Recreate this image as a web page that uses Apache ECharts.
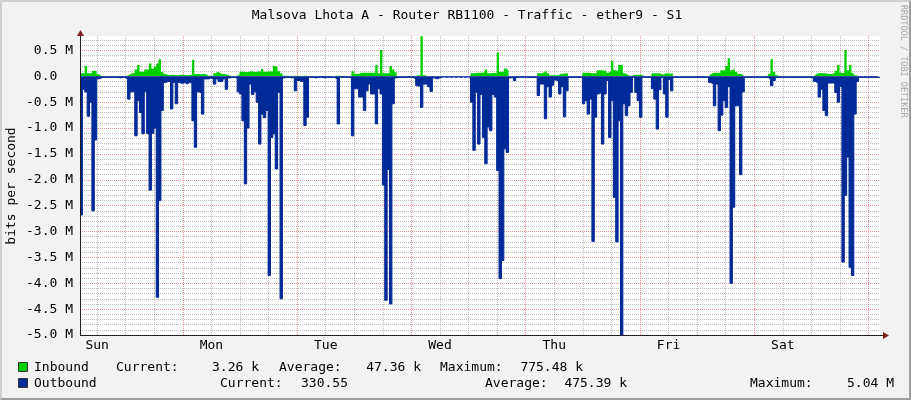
<!DOCTYPE html>
<html><head><meta charset="utf-8">
<script src="https://cdn.jsdelivr.net/npm/echarts@6/dist/echarts.min.js"></script>
<style>
html,body{margin:0;padding:0;background:#F2F2F2;}
#wrap{position:relative;width:911px;height:400px;overflow:hidden;}
#chart{position:absolute;left:0;top:0;width:911px;height:400px;}
#frame{position:absolute;left:0;top:0;width:911px;height:400px;box-sizing:border-box;border-style:solid;border-width:2px;border-color:#CFCFCF #9E9E9E #9E9E9E #CFCFCF;pointer-events:none;}
</style></head>
<body><div id="wrap"><div id="chart"></div><div id="frame"></div></div>
<script>
// ---------- text ----------
const TITLE = 'Malsova Lhota A - Router RB1100 - Traffic - ether9 - S1';
const Y_TITLE = 'bits per second';
const WATERMARK = 'RRDTOOL / TOBI OETIKER';
const DAY_NAMES = ['Sun','Mon','Tue','Wed','Thu','Fri','Sat'];
const DAY_LABEL_HOURS = [12,36,60,84,108,132,156];   // noon of each day (hours since Sunday 00:00)
const SERIES_NAMES = ['Inbound','Outbound'];
const STAT_LABELS = ['Current:','Average:','Maximum:'];
const IN_STATS = ['3.26 k','47.36 k','775.48 k'];
const OUT_STATS = ['330.55','475.39 k','5.04 M'];

// ---------- time base (30-minute samples) ----------
const START_HOUR = 8.4;     // Sunday 08:24
const END_HOUR = 176.4;     // one week later
const STEP_HOURS = 0.5;

// ---------- values, in M bits/s ----------
const INBOUND = [
0.06,0.06,0.20,0.06,0.06,0.11,0.10,0.04,0.008,0.006,0.007,0.005,
0.006,0.008,0.005,0.007,0.006,0.008,0.006,0.01,0.04,0.06,0.06,0.13,
0.22,0.09,0.09,0.13,0.13,0.25,0.15,0.19,0.25,0.33,0.09,0.045,
0.025,0.025,0.03,0.025,0.02,0.025,0.03,0.025,0.02,0.025,0.03,0.32,
0.045,0.045,0.04,0.045,0.04,0.01,0.01,0.01,0.06,0.09,0.06,0.045,
0.045,0.03,0.01,0.008,0.008,0.01,0.03,0.09,0.09,0.08,0.09,0.10,
0.09,0.08,0.10,0.09,0.14,0.09,0.09,0.10,0.09,0.20,0.17,0.10,
0.06,0.01,0.01,0.008,0.01,0.008,0.01,0.01,0.008,0.01,0.01,0.008,
0.008,0.006,0.008,0.006,0.008,0.006,0.008,0.006,0.008,0.006,0.008,0.01,
0.01,0.008,0.006,0.008,0.006,0.01,0.10,0.05,0.045,0.07,0.07,0.07,
0.07,0.07,0.07,0.07,0.22,0.06,0.51,0.06,0.06,0.06,0.20,0.13,
0.08,0.005,0.005,0.005,0.005,0.005,0.005,0.005,0.005,0.02,0.02,0.775,
0.02,0.004,0.004,0.004,0.004,0.004,0.004,0.004,0.004,0.004,0.004,0.004,
0.004,0.004,0.004,0.004,0.004,0.004,0.004,0.004,0.06,0.06,0.07,0.07,
0.07,0.08,0.13,0.06,0.06,0.07,0.06,0.46,0.09,0.09,0.15,0.12,
0.004,0.004,0.004,0.004,0.004,0.004,0.004,0.004,0.004,0.004,0.004,0.004,
0.06,0.06,0.08,0.11,0.06,0.02,0.02,0.02,0.02,0.05,0.05,0.06,
0.05,0.003,0.003,0.003,0.003,0.003,0.003,0.07,0.07,0.07,0.06,0.06,
0.06,0.12,0.12,0.11,0.11,0.07,0.10,0.30,0.12,0.11,0.22,0.22,
0.06,0.03,0.01,0.01,0.03,0.03,0.03,0.03,0.003,0.003,0.003,0.003,
0.06,0.06,0.06,0.05,0.03,0.06,0.06,0.05,0.06,0.003,0.003,0.003,
0.003,0.003,0.003,0.003,0.003,0.003,0.003,0.003,0.003,0.003,0.003,0.003,
0.04,0.07,0.07,0.07,0.07,0.12,0.12,0.20,0.35,0.12,0.15,0.09,
0.05,0.04,0.003,0.003,0.003,0.003,0.003,0.003,0.003,0.003,0.003,0.01,
0.005,0.05,0.33,0.09,0.02,0.003,0.003,0.003,0.003,0.003,0.003,0.003,
0.003,0.003,0.003,0.003,0.003,0.003,0.003,0.003,0.03,0.06,0.06,0.06,
0.06,0.05,0.045,0.045,0.07,0.11,0.22,0.07,0.06,0.51,0.12,0.22,
0.06,0.02,0.003,0.003,0.003,0.003,0.003,0.003,0.003,0.003,0.003,0.003
];
const OUTBOUND = [
2.68,0.25,0.30,0.77,0.50,2.60,1.23,0.05,0.03,0.02,0.02,0.02,
0.02,0.02,0.02,0.02,0.03,0.02,0.02,0.05,0.44,0.30,0.30,1.15,
0.47,0.70,1.11,0.30,1.11,2.20,1.10,1.00,4.27,2.40,0.66,0.12,
0.10,0.10,0.63,0.12,0.53,0.12,0.14,0.12,0.15,0.12,0.13,0.86,
1.37,0.30,0.32,0.73,0.05,0.05,0.03,0.05,0.15,0.05,0.10,0.10,
0.05,0.25,0.03,0.02,0.02,0.03,0.30,0.34,0.86,2.08,1.00,0.15,
0.35,0.30,0.50,1.31,0.73,0.80,0.66,3.85,1.18,1.11,1.79,0.31,
4.30,0.03,0.02,0.02,0.03,0.02,0.28,0.08,0.10,0.10,0.95,0.79,
0.02,0.02,0.03,0.02,0.02,0.02,0.03,0.02,0.02,0.02,0.02,0.05,
0.92,0.02,0.02,0.02,0.02,0.03,1.15,0.24,0.24,0.40,0.40,0.66,
0.28,0.15,0.34,0.34,0.92,0.24,0.34,2.10,4.33,1.80,4.40,0.53,
0.03,0.02,0.02,0.02,0.02,0.02,0.02,0.02,0.05,0.18,0.20,0.60,
0.15,0.15,0.20,0.29,0.03,0.05,0.03,0.02,0.01,0.02,0.01,0.02,
0.01,0.02,0.01,0.02,0.01,0.02,0.01,0.02,0.50,1.43,0.31,1.31,
0.35,1.18,1.69,0.98,1.05,0.35,0.40,1.82,3.91,3.56,1.40,1.47,
0.03,0.02,0.08,0.02,0.02,0.02,0.02,0.02,0.02,0.02,0.02,0.02,
0.37,0.15,0.15,0.82,0.20,0.40,0.17,0.07,0.10,0.34,0.20,0.78,
0.28,0.02,0.02,0.02,0.02,0.02,0.02,0.53,0.47,0.73,0.44,3.19,
0.79,0.34,0.31,1.31,0.34,0.08,1.18,0.47,2.34,3.20,0.86,5.04,
0.53,0.76,0.57,0.31,0.02,0.31,0.47,0.79,0.02,0.02,0.02,0.02,
0.24,0.44,1.02,0.26,0.02,0.34,0.79,0.06,0.28,0.02,0.02,0.02,
0.02,0.02,0.02,0.02,0.02,0.02,0.02,0.02,0.02,0.02,0.02,0.02,
0.12,0.15,0.57,0.15,1.05,0.75,0.47,0.60,0.20,4.00,2.53,0.57,
0.57,1.90,0.30,0.02,0.02,0.02,0.02,0.02,0.02,0.02,0.02,0.02,
0.02,0.05,0.18,0.08,0.02,0.02,0.02,0.02,0.02,0.02,0.02,0.02,
0.02,0.02,0.02,0.02,0.02,0.02,0.02,0.03,0.10,0.13,0.40,0.25,
0.66,0.76,0.13,0.13,0.13,0.31,0.50,0.20,3.59,2.30,1.56,3.69,
3.85,0.73,0.10,0.02,0.02,0.02,0.02,0.02,0.02,0.02,0.02,0.02
];

// ---------- style / layout ----------
const FONT = 'DejaVu Sans Mono';
const GREEN = '#00CF00', BLUE = '#002A97';
const GRID_MINOR = 'rgba(143,143,143,0.6)', GRID_MAJOR = 'rgba(222,79,79,0.6)';
const AXIS_COLOR = '#1F1F1F', ARROW_COLOR = '#801F1F';
const PLOT = {left: 80, top: 36, width: 800, height: 299};
const Y_MIN = -5, Y_MAX = 0.78;
const GRID_AXIS_MIN = 6, GRID_AXIS_MAX = 180; // helper axis for the 6-hour vertical grid
const pxPerHour = PLOT.width / (END_HOUR - START_HOUR);

function buildSeriesData(values, sign) {
  const d = values.map((v, i) => [START_HOUR + i * STEP_HOURS, sign * v]);
  d.push([END_HOUR, sign * values[values.length - 1]]);
  return d;
}

const chart = echarts.init(document.getElementById('chart'), null, {renderer: 'canvas', width: 911, height: 400});

const textStyle = (extra) => Object.assign({fontFamily: FONT, fontSize: 13, fill: '#000'}, extra);
const plotRight = PLOT.left + PLOT.width, plotBottom = PLOT.top + PLOT.height;

const legendRows = [
  {y: 368, color: GREEN, name: SERIES_NAMES[0], stats: IN_STATS, labelX: [116, 279, 440], valueRight: [259, 421, 583]},
  {y: 384, color: BLUE, name: SERIES_NAMES[1], stats: OUT_STATS, labelX: [220, 485, 750], valueRight: [348, 627, 894]}
];
const graphics = [
  {type: 'text', x: 467, y: 16, style: textStyle({text: TITLE, align: 'center', verticalAlign: 'middle'})},
  {type: 'text', x: 12, y: 186, rotation: Math.PI / 2, style: textStyle({text: Y_TITLE, align: 'center', verticalAlign: 'middle'})},
  {type: 'text', x: 903, y: 5, rotation: -Math.PI / 2, style: {text: WATERMARK, fontFamily: FONT, fontSize: 8.5, fill: '#A8A8A8', align: 'left', verticalAlign: 'middle'}},
  {type: 'line', z: 100, shape: {x1: PLOT.left + 0.5, y1: PLOT.top - 1, x2: PLOT.left + 0.5, y2: plotBottom}, style: {stroke: AXIS_COLOR, lineWidth: 1}},
  {type: 'line', z: 100, shape: {x1: PLOT.left, y1: plotBottom + 0.5, x2: plotRight + 4, y2: plotBottom + 0.5}, style: {stroke: AXIS_COLOR, lineWidth: 1}},
  {type: 'polygon', z: 101, shape: {points: [[PLOT.left - 3, PLOT.top], [PLOT.left + 4, PLOT.top], [PLOT.left + 0.5, PLOT.top - 6]]}, style: {fill: ARROW_COLOR}},
  {type: 'polygon', z: 101, shape: {points: [[plotRight + 3, plotBottom - 3], [plotRight + 3, plotBottom + 4], [plotRight + 9, plotBottom + 0.5]]}, style: {fill: ARROW_COLOR}}
];
legendRows.forEach(r => {
  graphics.push({type: 'rect', shape: {x: 18.5, y: r.y - 5.5, width: 9, height: 9}, style: {fill: r.color, stroke: '#333', lineWidth: 1}});
  graphics.push({type: 'text', x: 34, y: r.y, style: textStyle({text: r.name, verticalAlign: 'middle'})});
  STAT_LABELS.forEach((lab, k) => {
    graphics.push({type: 'text', x: r.labelX[k], y: r.y, style: textStyle({text: lab, verticalAlign: 'middle'})});
    graphics.push({type: 'text', x: r.valueRight[k], y: r.y, style: textStyle({text: r.stats[k], align: 'right', verticalAlign: 'middle'})});
  });
});

const option = {
  animation: false,
  backgroundColor: 'transparent',
  grid: [
    {left: PLOT.left, top: PLOT.top, width: PLOT.width, height: PLOT.height, show: true, backgroundColor: '#FFFFFF', borderWidth: 0},
    {left: PLOT.left - (START_HOUR - GRID_AXIS_MIN) * pxPerHour, top: PLOT.top,
     width: (GRID_AXIS_MAX - GRID_AXIS_MIN) * pxPerHour, height: PLOT.height, show: false}
  ],
  xAxis: [
    {gridIndex: 0, type: 'value', min: START_HOUR, max: END_HOUR,
     axisLine: {show: false, onZero: false}, axisTick: {show: false}, splitLine: {show: false},
     axisLabel: {customValues: DAY_LABEL_HOURS, formatter: v => DAY_NAMES[DAY_LABEL_HOURS.indexOf(v)] || '',
                 color: '#000', fontFamily: FONT, fontSize: 13, margin: 4}},
    {gridIndex: 1, type: 'value', min: GRID_AXIS_MIN, max: GRID_AXIS_MAX, interval: 6, z: 1,
     axisLine: {show: false}, axisTick: {show: false}, axisLabel: {show: false},
     splitLine: {show: true, showMinLine: false, showMaxLine: false,
                 lineStyle: {color: [GRID_MINOR, GRID_MINOR, GRID_MINOR, GRID_MAJOR], type: [1, 1], width: 1}}}
  ],
  yAxis: [
    {gridIndex: 0, type: 'value', min: Y_MIN, max: Y_MAX, interval: 0.1,
     axisLine: {show: false}, axisTick: {show: false},
     axisLabel: {showMaxLabel: false, color: '#000', fontFamily: FONT, fontSize: 13, margin: 7,
                 formatter: v => {
                   const t = Math.round(v * 10);
                   if (t % 5 !== 0) return '';
                   if (t === 0) return '0.0  ';
                   return (t / 10).toFixed(1) + ' M';
                 }},
     splitLine: {show: true, showMaxLine: false,
                 lineStyle: {color: [GRID_MAJOR, GRID_MINOR, GRID_MINOR, GRID_MINOR, GRID_MINOR], type: [1, 1], width: 1}}},
    {gridIndex: 1, type: 'value', min: Y_MIN, max: Y_MAX, show: false, splitLine: {show: false}}
  ],
  series: [
    {name: SERIES_NAMES[0], type: 'line', xAxisIndex: 0, yAxisIndex: 0, step: 'end', symbol: 'none', silent: true,
     data: buildSeriesData(INBOUND, 1), lineStyle: {width: 0, color: GREEN}, itemStyle: {color: GREEN},
     areaStyle: {color: GREEN, opacity: 1}, z: 2},
    {name: SERIES_NAMES[1], type: 'line', xAxisIndex: 0, yAxisIndex: 0, step: 'end', symbol: 'none', silent: true,
     data: buildSeriesData(OUTBOUND, -1), lineStyle: {width: 1, color: BLUE}, itemStyle: {color: BLUE},
     areaStyle: {color: BLUE, opacity: 1}, z: 3}
  ],
  graphic: graphics
};
chart.setOption(option);
</script>
</body></html>
